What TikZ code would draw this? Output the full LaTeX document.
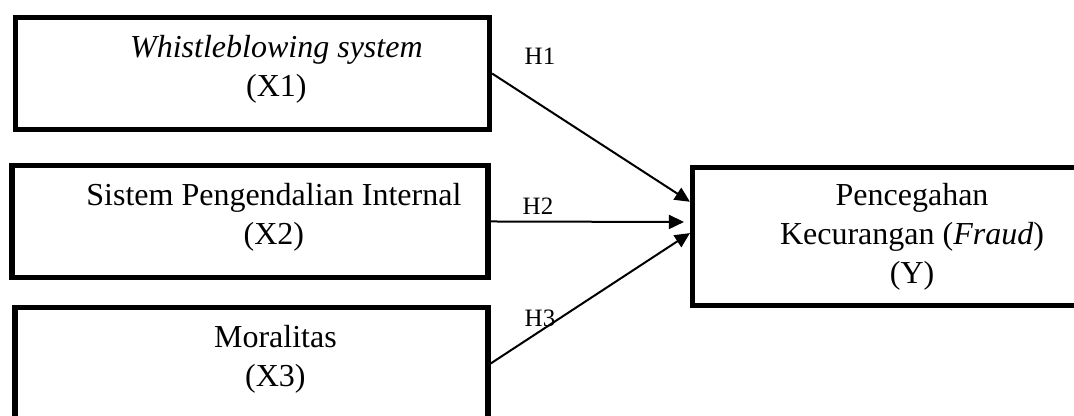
\documentclass[tikz,border=0pt]{standalone}
\usepackage{fontspec}
\setmainfont{Liberation Serif}
\usetikzlibrary{positioning, arrows.meta}

\begin{document}
\begin{tikzpicture}[every node/.style={align=center, font=\fontsize{16}{19.5}\selectfont},
		varbox/.style={draw, line width=2.6pt, minimum height=1.968cm},
		hlabel/.style={font=\fontsize{12.5}{14}\selectfont},
		>={Triangle[length=7.5pt, width=7pt]}]
	\useasboundingbox (0,0) rectangle (18.873,-7.293);
	% Independent variables
	\node[varbox, minimum width=8.330cm] (x1box) at (4.437,-1.292) {};
	\node[varbox, minimum width=8.365cm] (x2box) at (4.393,-3.892) {};
	\node[varbox, minimum width=8.312cm] (x3box) at (4.420,-6.388) {};
	\node (x1text) at ([xshift=0.42cm, yshift=0.07cm]x1box.center) {\textit{Whistleblowing system}\\(X1)};
	\node (x2text) at ([xshift=0.42cm, yshift=0.07cm]x2box.center) {Sistem Pengendalian Internal\\(X2)};
	\node (x3text) at ([xshift=0.42cm, yshift=0.07cm]x3box.center) {Moralitas\\(X3)};
	% Dependent variable
	\node[varbox, minimum width=7.715cm, minimum height=2.425cm] (ybox) at (16.027,-4.156) {Pencegahan\\Kecurangan (\textit{Fraud})\\(Y)};
	% Arrows
	\draw[->, line width=1pt, black] (x1box.east) -- ([yshift=0.61cm]ybox.west);
	\draw[->, line width=1pt, black] (x2box.east) -- ([xshift=-0.105cm, yshift=0.255cm]ybox.west);
	\draw[->, line width=1pt, black] (x3box.east) -- ([yshift=0.06cm]ybox.west);
	% Hypotheses
	\node[hlabel] (h1) at (9.489,-0.993) {H1};
	\node[hlabel] (h2) at (9.454,-3.629) {H2};
	\node[hlabel] (h3) at (9.489,-5.588) {H3};
\end{tikzpicture}
\end{document}
